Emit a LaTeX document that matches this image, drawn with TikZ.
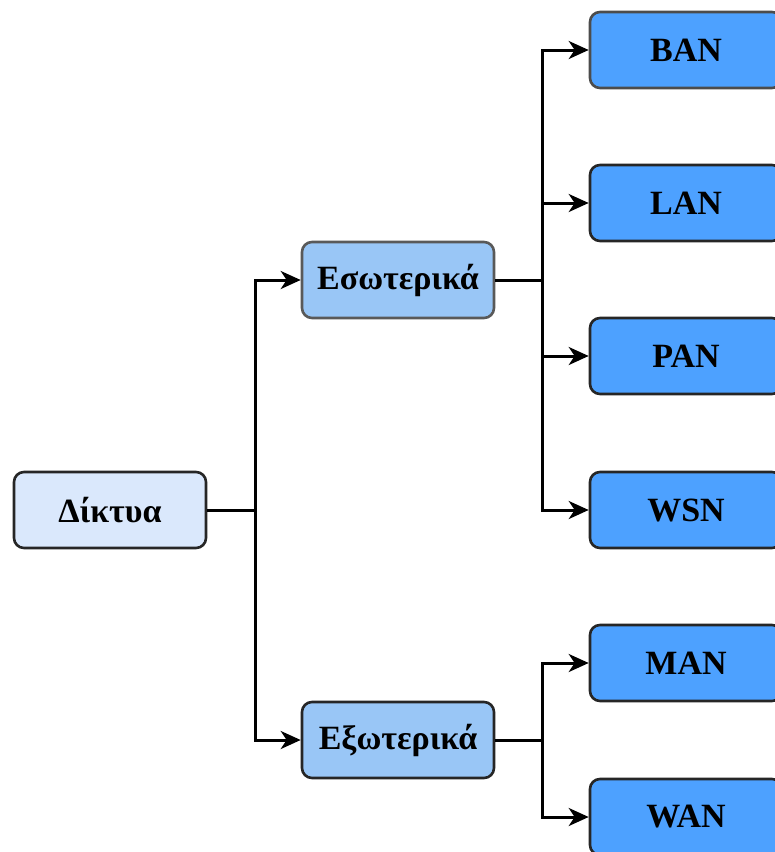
\documentclass[tikz,border=0pt]{standalone}
\usepackage{fontspec}
\setmainfont{Liberation Serif}
\usetikzlibrary{arrows.meta,positioning}
\definecolor{rootblue}{HTML}{DAE8FC}
\definecolor{midblue}{HTML}{99C6F6}
\definecolor{leafblue}{HTML}{4DA1FF}
\tikzset{
  netbox/.style={draw=black!85,line width=1.3pt,rounded corners=5pt,minimum width=96pt,minimum height=38pt,
    font=\fontsize{17}{20}\selectfont\bfseries,inner sep=0pt},
  link/.style={line width=1.5pt}
}

\begin{document}
\begin{tikzpicture}[x=0.5pt,y=-0.5pt,>={Stealth[length=10pt,width=9pt,inset=3pt]}]
  \useasboundingbox (0,0) rectangle (775,852);
  % root and the two groups
  \node[netbox,fill=rootblue] (diktya) at (110,510) {Δίκτυα};
  \node[netbox,fill=midblue,draw=black!65] (eso) at (398,280) {Εσωτερικά};
  \node[netbox,fill=midblue] (exo) at (398,740) {Εξωτερικά};
  % leaves
  \node[netbox,fill=leafblue,draw=black!70] (ban) at (686,50) {BAN};
  \node[netbox,fill=leafblue] (lan) at (686,203) {LAN};
  \node[netbox,fill=leafblue] (pan) at (686,356) {PAN};
  \node[netbox,fill=leafblue] (wsn) at (686,510) {WSN};
  \node[netbox,fill=leafblue] (man) at (686,663) {MAN};
  \node[netbox,fill=leafblue] (wan) at (686,817) {WAN};
  % branch points
  \coordinate (s0) at (255,510);
  \coordinate (s1) at (542,280);
  \coordinate (s2) at (542,740);
  \draw[link] (diktya) -- (s0);
  \draw[link,->] (s0) |- (eso);
  \draw[link,->] (s0) |- (exo);
  \draw[link] (eso) -- (s1);
  \foreach \leaf in {ban,lan,pan,wsn} \draw[link,->] (s1) |- (\leaf);
  \draw[link] (exo) -- (s2);
  \foreach \leaf in {man,wan} \draw[link,->] (s2) |- (\leaf);
\end{tikzpicture}
\end{document}
